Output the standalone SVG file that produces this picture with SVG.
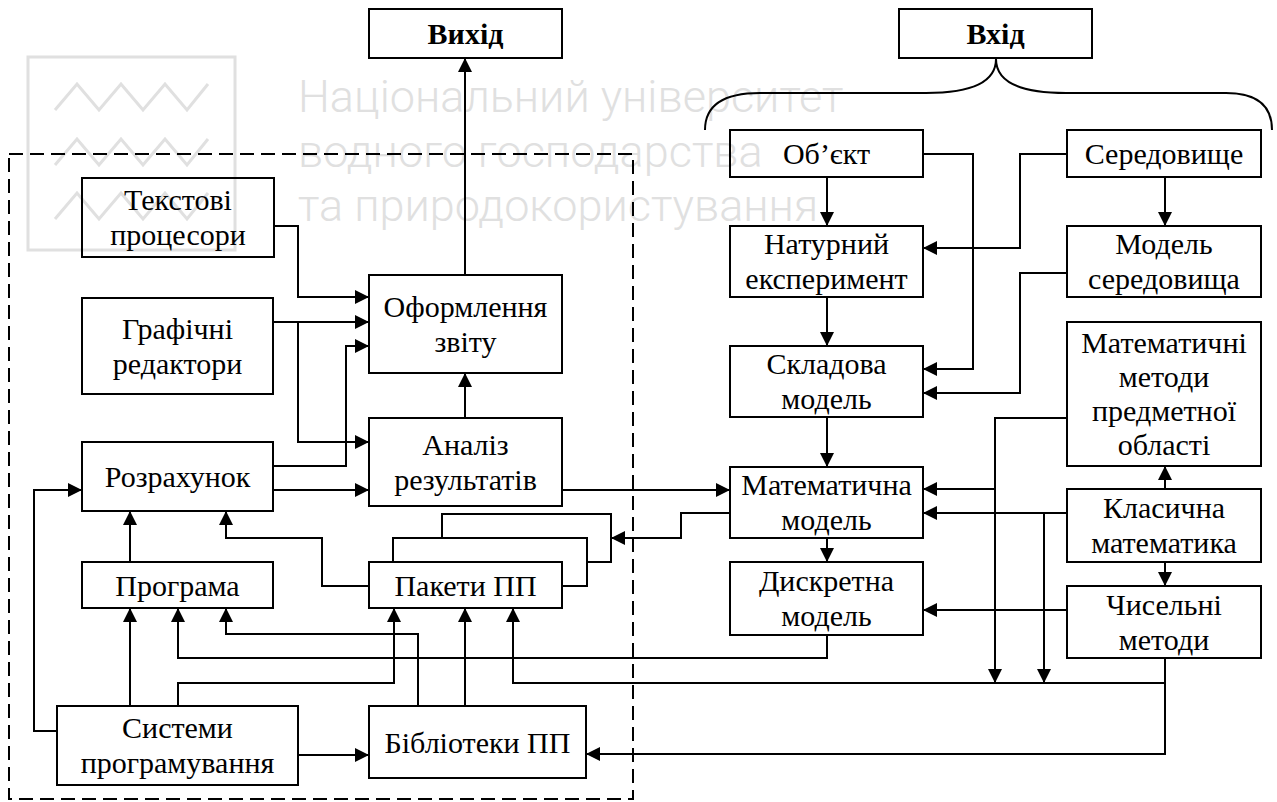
<svg xmlns="http://www.w3.org/2000/svg" width="1277" height="802" viewBox="0 0 1277 802">
<style>
.box{fill:none;stroke:#000;stroke-width:2}
.t{font-family:"Liberation Serif","Times New Roman",serif;font-size:30px;text-anchor:middle;fill:#000}
.b{font-weight:bold}
.c{fill:none;stroke:#000;stroke-width:2}
.a{marker-end:url(#arr)}
.wm{font-family:Roboto,"Open Sans",sans-serif;font-size:45px;font-weight:300;fill:#e0e0e0}
.wl{fill:none;stroke:#e0e0e0;stroke-width:3}
.dash{fill:none;stroke:#000;stroke-width:2;stroke-dasharray:14 7}
</style>
<defs>
<marker id="arr" markerUnits="userSpaceOnUse" markerWidth="14" markerHeight="14" refX="14" refY="7" orient="auto">
<path d="M0,0 L14,7 L0,14 z" fill="#000"/>
</marker>
</defs>
<rect width="1277" height="802" fill="#fff"/>
<g id="watermark">
<rect class="wl" x="28" y="57" width="207" height="193"/>
<polyline class="wl" points="55,110 77,84 99,110 121,84 143,110 165,84 187,110 208,84"/>
<polyline class="wl" points="55,165 77,139 99,165 121,139 143,165 165,139 187,165 208,139"/>
<polyline class="wl" points="55,219 77,193 99,219 121,193 143,219 165,193 187,219 208,193"/>
<text class="wm" x="298" y="112">Національний університет</text>
<text class="wm" x="298" y="167">водного господарства</text>
<text class="wm" x="298" y="221">та природокористування</text>
</g>
<rect class="dash" x="9" y="154" width="624" height="645"/>
<path class="c" d="M705,130 Q705,93 760,93 L926,93 Q996,93 996,59 Q996,93 1066,93 L1226,93 Q1272,93 1272,130"/>
<g id="connectors">
<path class="c a" d="M465,275 V58"/>
<path class="c a" d="M274,226 H298 V297 H369"/>
<path class="c a" d="M273,322 H369"/>
<path class="c a" d="M298,322 V442 H369"/>
<path class="c a" d="M273,466 H346 V346 H369"/>
<path class="c a" d="M273,490 H369"/>
<path class="c a" d="M465,418 V373"/>
<path class="c a" d="M562,490 H730"/>
<path class="c a" d="M130,562 V511"/>
<path class="c a" d="M369,586 H322 V538 H226 V511"/>
<path class="c a" d="M57,731 H34 V490 H82"/>
<path class="c a" d="M130,706 V608"/>
<path class="c a" d="M178,706 V683 H394 V608"/>
<path class="c a" d="M418,706 V634 H226 V608"/>
<path class="c a" d="M465,706 V608"/>
<path class="c a" d="M298,755 H369"/>
<path class="c a" d="M827,635 V658 H178 V608"/>
<path class="c a" d="M1165,658 V683 H513 V608"/>
<path class="c a" d="M1165,683 V754 H586"/>
<path class="c a" d="M827,177 V226"/>
<path class="c a" d="M923,154 H973 V369 H923"/>
<path class="c a" d="M1067,154 H1020 V248 H923"/>
<path class="c a" d="M1165,177 V226"/>
<path class="c a" d="M1067,273 H1020 V393 H923"/>
<path class="c a" d="M827,297 V346"/>
<path class="c a" d="M827,417 V467"/>
<path class="c a" d="M827,538 V562"/>
<path class="c a" d="M730,513 H681 V538 H611"/>
<path class="c a" d="M1067,418 H995 V489 H923"/>
<path class="c a" d="M995,489 V683"/>
<path class="c a" d="M1165,489 V466"/>
<path class="c a" d="M1067,513 H923"/>
<path class="c a" d="M1044,513 V683"/>
<path class="c a" d="M1165,562 V586"/>
<path class="c a" d="M1067,610 H923"/>
</g>
<g id="vyhid"><rect class="box" x="369" y="9" width="193" height="49"/><text class="t b" x="465.5" y="44">Вихід</text></g>
<g id="vhid"><rect class="box" x="899" y="9" width="193" height="49"/><text class="t b" x="995.5" y="44">Вхід</text></g>
<g id="tekstovi"><rect class="box" x="82" y="178" width="192" height="79"/><text class="t" x="178" y="210">Текстові</text><text class="t" x="178" y="245">процесори</text></g>
<g id="grafichni"><rect class="box" x="82" y="298" width="191" height="96"/><text class="t" x="177.5" y="338.5">Графічні</text><text class="t" x="177.5" y="373.5">редактори</text></g>
<g id="oformlennia"><rect class="box" x="369" y="275" width="193" height="98"/><text class="t" x="465.5" y="316.5">Оформлення</text><text class="t" x="465.5" y="351.5">звіту</text></g>
<g id="analiz"><rect class="box" x="369" y="418" width="193" height="88"/><text class="t" x="465.5" y="454.5">Аналіз</text><text class="t" x="465.5" y="489.5">результатів</text></g>
<g id="rozrakhunok"><rect class="box" x="82" y="442" width="191" height="69"/><text class="t" x="177.5" y="487">Розрахунок</text></g>
<g id="prohrama"><rect class="box" x="82" y="562" width="191" height="46"/><text class="t" x="177.5" y="595.5">Програма</text></g>
<g id="pakety">
<polyline class="c" points="442,538 442,514 611,514 611,562 587,562"/>
<polyline class="c" points="393,562 393,538 587,538 587,586 562,586"/>
<rect class="box" x="369" y="562" width="193" height="46"/><text class="t" x="465.5" y="595.5">Пакети ПП</text></g>
<g id="systemy"><rect class="box" x="57" y="706" width="241" height="79"/><text class="t" x="177.5" y="738">Системи</text><text class="t" x="177.5" y="773">програмування</text></g>
<g id="biblioteky"><rect class="box" x="369" y="706" width="217" height="72"/><text class="t" x="477.5" y="752.5">Бібліотеки ПП</text></g>
<g id="obiekt"><rect class="box" x="730" y="130" width="193" height="47"/><text class="t" x="826.5" y="164">Об’єкт</text></g>
<g id="seredovyshche"><rect class="box" x="1067" y="130" width="194" height="47"/><text class="t" x="1164" y="164">Середовище</text></g>
<g id="naturnyi"><rect class="box" x="730" y="226" width="193" height="71"/><text class="t" x="826.5" y="254">Натурний</text><text class="t" x="826.5" y="289">експеримент</text></g>
<g id="model-sered"><rect class="box" x="1067" y="226" width="194" height="71"/><text class="t" x="1164" y="254">Модель</text><text class="t" x="1164" y="289">середовища</text></g>
<g id="skladova"><rect class="box" x="730" y="346" width="193" height="71"/><text class="t" x="826.5" y="374">Складова</text><text class="t" x="826.5" y="409">модель</text></g>
<g id="mat-metody"><rect class="box" x="1067" y="322" width="194" height="144"/><text class="t" x="1164" y="353">Математичні</text><text class="t" x="1164" y="387">методи</text><text class="t" x="1164" y="421">предметної</text><text class="t" x="1164" y="455">області</text></g>
<g id="matematychna"><rect class="box" x="730" y="467" width="193" height="71"/><text class="t" x="826.5" y="495">Математична</text><text class="t" x="826.5" y="530">модель</text></g>
<g id="klasychna"><rect class="box" x="1067" y="489" width="194" height="73"/><text class="t" x="1164" y="518">Класична</text><text class="t" x="1164" y="553">математика</text></g>
<g id="dyskretna"><rect class="box" x="730" y="562" width="193" height="73"/><text class="t" x="826.5" y="591">Дискретна</text><text class="t" x="826.5" y="626">модель</text></g>
<g id="chyselni"><rect class="box" x="1067" y="586" width="194" height="72"/><text class="t" x="1164" y="614.5">Чисельні</text><text class="t" x="1164" y="649.5">методи</text></g>
</svg>
